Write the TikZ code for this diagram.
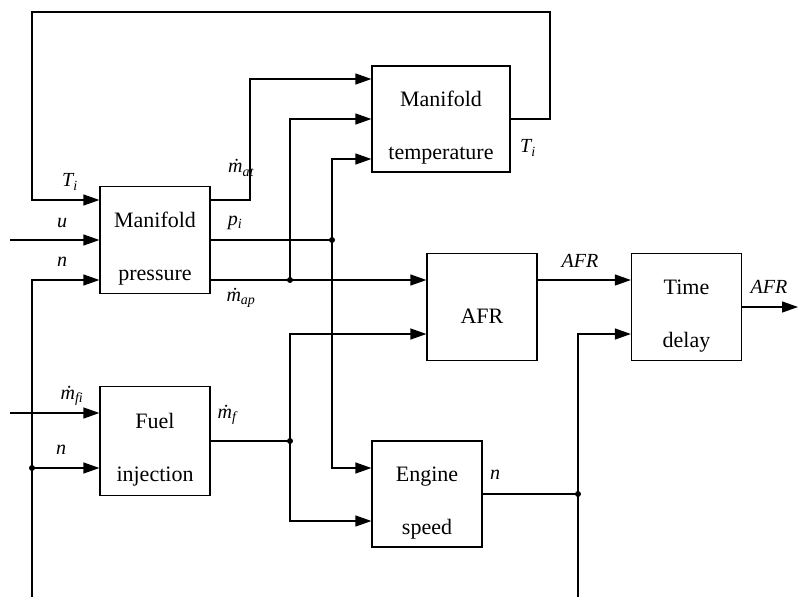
\documentclass[tikz,border=0pt]{standalone}
\usepackage{fontspec}
\setmainfont{Liberation Serif}
\usepackage{xcolor}
\usetikzlibrary{arrows.meta, positioning}

\newcommand{\bstrut}{\rule{0pt}{33pt}}

\begin{document}
\begin{tikzpicture}[
    x=1pt, y=-1pt,
    block/.style={draw, line width=1.2pt, minimum width=110pt, minimum height=107pt, align=center,
        font=\fontsize{22}{53}\selectfont},
    lbl/.style={font=\fontsize{20}{22}\selectfont\itshape, inner sep=0pt},
    arr/.style={-{Triangle[length=16pt, width=11pt]}, line width=1.2pt},
    wire/.style={line width=1.2pt},
    jdot/.style={fill, circle, inner sep=0pt, minimum size=6pt}
]
    \useasboundingbox (0,0) rectangle (798,597);

    % blocks
    \node[block] (mp) at (155,240) {\bstrut Manifold\\pressure};
    \node[block, minimum width=138pt, minimum height=106pt] (mt) at (441,119) {\bstrut Manifold\\temperature};
    \node[block] (afr) at (482,307) {\bstrut AFR};
    \node[block] (td) at (686.5,307) {\bstrut Time\\delay};
    \node[block, minimum height=109pt] (fi) at (155,441) {\bstrut Fuel\\injection};
    \node[block, minimum height=106pt] (es) at (427,494) {\bstrut Engine\\speed};

    % junctions and free ends
    \coordinate (jp) at (332,240);
    \coordinate (ja) at (290,280);
    \coordinate (jf) at (290,441);
    \coordinate (jn) at (578,494);
    \coordinate (jl) at (32,468);
    \coordinate (uin) at (10,240);
    \coordinate (mfin) at (10,413);
    \coordinate (nbot) at (32,597);
    \coordinate (nrbot) at (578,597);
    \coordinate (afrout) at (798,307);

    % feedback T_i
    \draw[arr] (mt.east) -| (550,12) -| (32,200) -- ([yshift=40pt]mp.west);
    \draw[arr] (uin) -- (mp.west);
    \draw[arr] (nbot) |- ([yshift=-40pt]mp.west);
    \draw[arr] (jl) -- ([yshift=-27pt]fi.west);
    \draw[arr] (mfin) -- ([yshift=28pt]fi.west);

    \draw[arr] ([yshift=40pt]mp.east) -| (250,79) -- ([yshift=40pt]mt.west);
    \draw[wire] (mp.east) -- (jp);
    \draw[arr] (jp) |- ([yshift=-40pt]mt.west);
    \draw[arr] (jp) |- ([yshift=26pt]es.west);
    \draw[arr] ([yshift=-40pt]mp.east) -- ([yshift=27pt]afr.west);
    \draw[arr] (ja) |- (mt.west);

    \draw[wire] (fi.east) -- (jf);
    \draw[arr] (jf) |- ([yshift=-27pt]afr.west);
    \draw[arr] (jf) |- ([yshift=-27pt]es.west);

    \draw[wire] (es.east) -- (jn);
    \draw[arr] (nrbot) |- ([yshift=-27pt]td.west);
    \draw[arr] ([yshift=27pt]afr.east) -- ([yshift=27pt]td.west);
    \draw[arr] (td.east) -- (afrout);

    \foreach \j in {jp, ja, jf, jn, jl}
        \node[jdot] at (\j) {};

    % signal labels
    \node[lbl] (lti) at (70,182) {T\textsubscript{i}};
    \node[lbl] (lu) at (62,223) {u};
    \node[lbl] (ln) at (62,262) {n};
    \node[lbl] (lmat) at (241,168) {\.m\textsubscript{at}};
    \node[lbl] (lpi) at (235,223) {p\textsubscript{i}};
    \node[lbl] (lmap) at (241,298) {\.m\textsubscript{ap}};
    \node[lbl] (ltim) at (528,148) {T\textsubscript{i}};
    \node[lbl] (lafr) at (580,261) {AFR};
    \node[lbl] (lafrout) at (769,287) {AFR};
    \node[lbl] (lmfi) at (72,396) {\.m\textsubscript{fi}};
    \node[lbl] (lnfi) at (61,450) {n};
    \node[lbl] (lmf) at (227,415) {\.m\textsubscript{f}};
    \node[lbl] (lnes) at (495,475) {n};
\end{tikzpicture}
\end{document}
